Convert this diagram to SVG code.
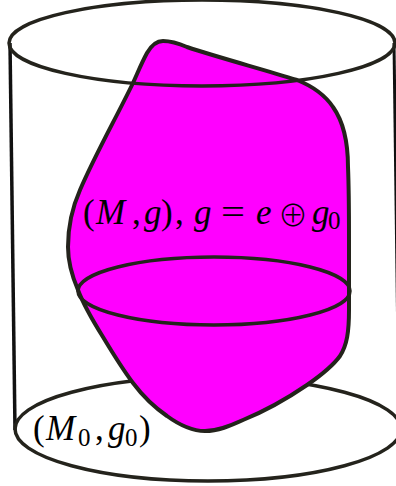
<svg xmlns="http://www.w3.org/2000/svg" width="396" height="486" viewBox="0 0 396 486">
<style>
.o{fill:none;stroke:#24231c;stroke-width:3.5}
.w{fill:none;stroke:#111;stroke-width:3.5}
.b{fill:#ff00ff;stroke:#24231c;stroke-width:4;stroke-linejoin:round}
text{font-family:"Liberation Serif","Times New Roman",serif;fill:#000}
.t{font-size:35px}
.i{font-style:italic}
.s{font-size:25px}
</style>
<rect width="396" height="486" fill="#fff"/>
<g id="cylinder-sides">
<path class="w" d="M10 43L15 430"/>
<path d="M394 43L399 430" fill="none" stroke="#111" stroke-width="3"/>
</g>
<g id="base"><ellipse class="o" cx="208" cy="429" rx="193" ry="52"/></g>
<g id="manifold"><path class="b" d="M163 41C172 41 180 44 187 47C220 58 262 69 297 80C312 86 325 95 333 107C345 124 348 145 348 167C349 190 349 215 349 240L349 310C349 332 347 345 340 356C332 367 320 376 307 385C288 398 265 411 243 420C230 426 218 431 205 431C192 431 178 424 167 416C154 407 142 395 133 383C124 371 112 352 103 337C93 321 84 306 78 290C72 276 68 262 68 247C68 228 72 208 80 190C95 155 116 118 133 83C138 72 142 62 147 53C151 46 156 41 163 41Z"/></g>
<g id="top"><ellipse class="o" cx="202" cy="43" rx="193" ry="43"/></g>
<g id="slice"><ellipse class="o" cx="214" cy="291" rx="136" ry="34"/></g>
<g id="label-manifold">
<text class="t" x="83" y="224">(</text>
<text class="t i" x="96" y="224">M</text>
<text class="t" x="132" y="224">,</text>
<text class="t i" x="144" y="224">g</text>
<text class="t" x="161" y="224">)</text>
<text class="t" x="175" y="224">,</text>
<text class="t i" x="194" y="224">g</text>
<text class="t" x="221" y="224" textLength="24" lengthAdjust="spacingAndGlyphs">=</text>
<text class="t i" x="256" y="224">e</text>
<text x="278" y="226" font-size="30" font-weight="300" style="font-family:'Noto Sans CJK JP',sans-serif">⊕</text>
<text class="t i" x="312" y="224">g</text>
<text class="s" x="328" y="229">0</text>
</g>
<g id="label-base">
<text class="t" x="33" y="440">(</text>
<text class="t i" x="46" y="440">M</text>
<text class="s" x="78" y="446">0</text>
<text class="t" x="95" y="440">,</text>
<text class="t i" x="108" y="440">g</text>
<text class="s" x="125" y="446">0</text>
<text class="t" x="139" y="440">)</text>
</g>
<g id="connectors"></g>
</svg>
